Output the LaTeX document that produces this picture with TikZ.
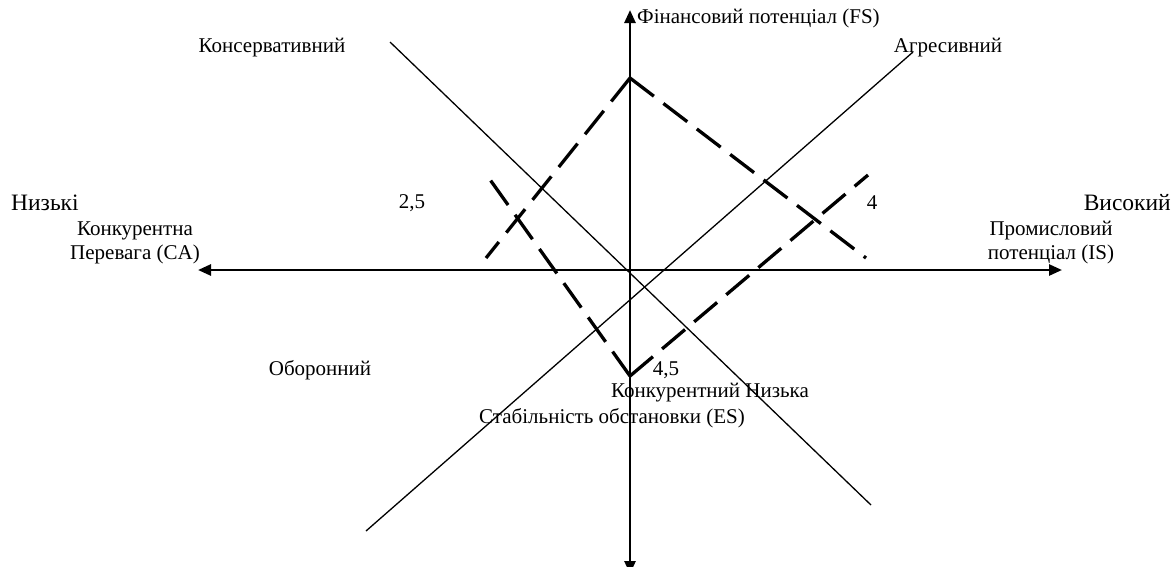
\documentclass[tikz,border=0pt]{standalone}
\usepackage{fontspec}
\setmainfont{Liberation Serif}
\usepackage{tikz}
\usetikzlibrary{arrows.meta}

\begin{document}
\begin{tikzpicture}[x=1pt, y=-1pt,
  lbl/.style={inner sep=0pt, font=\fontsize{21}{24}\selectfont, align=center},
  biglbl/.style={lbl, font=\fontsize{23.5}{26}\selectfont},
  axis/.style={line width=2.6pt, -{Triangle[length=13pt, width=11pt]}},
  diag/.style={line width=1.3pt},
  dashline/.style={line width=3.3pt, dash pattern=on 30pt off 12pt}]
\useasboundingbox (0,0) rectangle (1175,566);
% axes
\coordinate (o) at (630,270);
\coordinate (ca) at (198,270);
\coordinate (is) at (1062,270);
\coordinate (fs) at (630,10);
\coordinate (es) at (630,574);
\draw[axis] (o) -- (ca);
\draw[axis] (o) -- (is);
\draw[axis] (o) -- (fs);
\draw[axis] (o) -- (es);
% diagonals
\coordinate (kons) at (390,42);
\coordinate (kons2) at (871,505);
\coordinate (agr) at (913,52);
\coordinate (agr2) at (366,531);
\draw[diag] (kons) -- (kons2);
\draw[diag] (agr) -- (agr2);
% dashed profile
\coordinate (t) at (630,78);
\coordinate (tl) at (486,258);
\coordinate (tr) at (866,258);
\coordinate (b) at (630,376);
\coordinate (bl) at (486,174);
\coordinate (br) at (868,175);
\draw[dashline] (t) -- (tl);
\draw[dashline] (t) -- (tr);
\draw[dashline] (b) -- (bl);
\draw[dashline] (b) -- (br);
% labels
\node[lbl, anchor=west] (fslbl) at (637,18) {Фінансовий потенціал (FS)};
\node[lbl] (konslbl) at (272,48) {Консервативний};
\node[lbl] (agrlbl) at (948,48) {Агресивний};
\node[biglbl, anchor=west] (low) at (11,203) {Низькі};
\node[lbl] (v25) at (412,203) {2,5};
\node[lbl] (v4) at (872,203) {4};
\node[biglbl, anchor=east] (high) at (1171,203) {Високий};
\node[lbl] (calbl) at (135,243) {Конкурентна\\Перевага (CA)};
\node[lbl] (islbl) at (1051,243) {Промисловий\\потенціал (IS)};
\node[lbl] (obor) at (320,370) {Оборонний};
\node[lbl] (v45) at (666,370) {4,5};
\node[lbl] (konk) at (710,393) {Конкурентний Низька};
\node[lbl] (eslbl) at (612,418) {Стабільність обстановки (ES)};
\end{tikzpicture}
\end{document}
